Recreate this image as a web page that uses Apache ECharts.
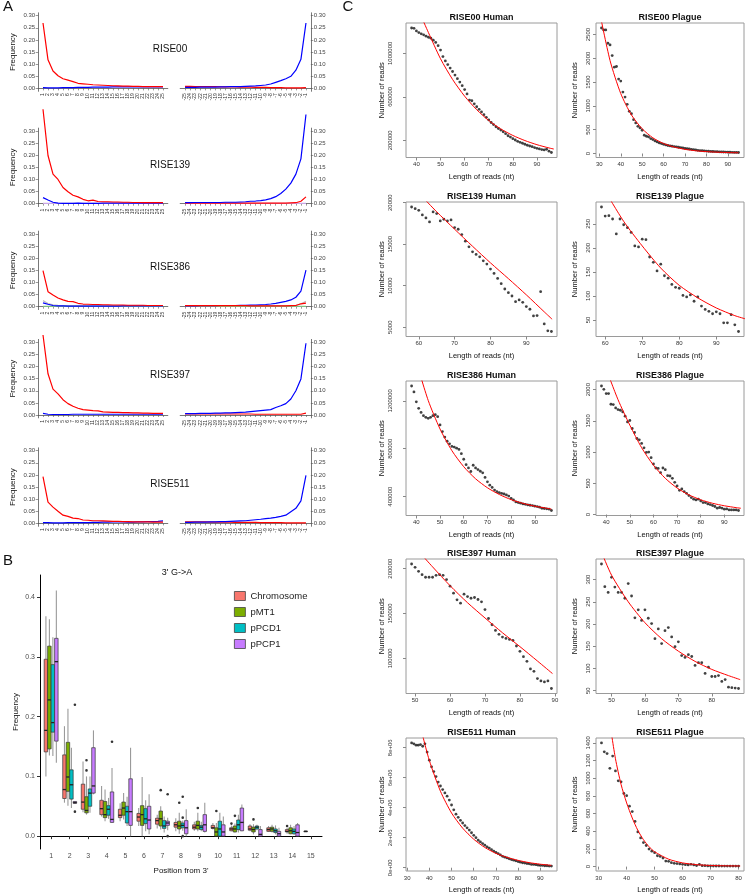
<!DOCTYPE html>
<html><head><meta charset="utf-8">
<script src="https://cdn.jsdelivr.net/npm/echarts@6/dist/echarts.min.js"></script>
<style>html,body{margin:0;padding:0;background:#fff}#c{width:748px;height:895px}</style>
</head><body><div id="c"></div>
<script>
// ---------------- Panel A data ----------------
const A_samples = ['RISE00','RISE139','RISE386','RISE397','RISE511'];
const A_pos5 = [1,2,3,4,5,6,7,8,9,10,11,12,13,14,15,16,17,18,19,20,21,22,23,24,25];
const A_pos3 = [-25,-24,-23,-22,-21,-20,-19,-18,-17,-16,-15,-14,-13,-12,-11,-10,-9,-8,-7,-6,-5,-4,-3,-2,-1];
const A_yTicks = [0,0.05,0.1,0.15,0.2,0.25,0.3];

const RISE00_red_5p  = [0.27,0.118,0.072,0.052,0.04,0.034,0.028,0.021,0.019,0.017,0.015,0.014,0.013,0.012,0.011,0.010,0.009,0.009,0.008,0.008,0.007,0.007,0.007,0.007,0.007];
const RISE00_blue_5p = [0.003,0.002,0.002,0.002,0.003,0.003,0.003,0.004,0.004,0.004,0.005,0.005,0.005,0.005,0.006,0.006,0.006,0.006,0.006,0.006,0.006,0.006,0.006,0.006,0.006];
const RISE00_red_3p  = [0.008,0.008,0.007,0.007,0.007,0.007,0.007,0.006,0.006,0.006,0.006,0.005,0.005,0.005,0.004,0.004,0.004,0.003,0.003,0.003,0.002,0.002,0.002,0.002,0.003];
const RISE00_blue_3p = [0.004,0.004,0.004,0.005,0.005,0.005,0.005,0.006,0.006,0.007,0.007,0.007,0.008,0.009,0.010,0.012,0.014,0.018,0.025,0.032,0.040,0.050,0.075,0.120,0.270];

const RISE139_red_5p  = [0.39,0.199,0.122,0.10,0.067,0.049,0.035,0.028,0.018,0.012,0.015,0.009,0.008,0.008,0.007,0.007,0.006,0.006,0.005,0.005,0.004,0.004,0.004,0.004,0.004];
const RISE139_blue_5p = [0.025,0.015,0.006,0.002,0.001,0.001,0.001,0.002,0.001,0.001,0.001,0.001,0.002,0.002,0.002,0.002,0.002,0.002,0.002,0.002,0.002,0.002,0.002,0.002,0.002];
const RISE139_red_3p  = [0.002,0.002,0.002,0.002,0.002,0.002,0.002,0.002,0.002,0.002,0.002,0.002,0.002,0.002,0.002,0.002,0.002,0.002,0.002,0.002,0.002,0.003,0.004,0.010,0.028];
const RISE139_blue_3p = [0.004,0.004,0.005,0.005,0.005,0.005,0.005,0.005,0.006,0.006,0.006,0.007,0.008,0.010,0.011,0.013,0.016,0.021,0.029,0.042,0.060,0.085,0.122,0.185,0.368];
const RISE139_purple  = [0.001,0.001,0.001,0.001,0.001,0.001,0.001,0.001,0.001,0.001,0.001,0.001,0.001,0.001,0.001,0.001,0.001,0.001,0.001,0.001,0.001,0.001,0.001,0.001,0.001];

const RISE386_red_5p  = [0.149,0.062,0.048,0.036,0.028,0.022,0.021,0.014,0.011,0.010,0.009,0.009,0.008,0.008,0.007,0.007,0.007,0.006,0.006,0.006,0.006,0.005,0.005,0.005,0.005];
const RISE386_blue_5p = [0.016,0.010,0.005,0.003,0.003,0.002,0.002,0.002,0.002,0.002,0.002,0.002,0.002,0.002,0.002,0.002,0.003,0.003,0.003,0.003,0.003,0.003,0.003,0.003,0.003];
const RISE386_grey_5p = [0.025,0.013,0.008,0.006,0.005,0.005,0.004,0.004,0.004,0.004,0.004,0.004,0.004,0.004,0.004,0.004,0.004,0.004,0.004,0.004,0.004,0.004,0.004,0.004,0.004];
const RISE386_red_3p  = [0.004,0.004,0.004,0.004,0.004,0.004,0.004,0.004,0.004,0.004,0.004,0.004,0.004,0.003,0.003,0.003,0.003,0.003,0.003,0.003,0.003,0.004,0.005,0.012,0.015];
const RISE386_blue_3p = [0.003,0.003,0.003,0.004,0.004,0.004,0.004,0.005,0.005,0.005,0.005,0.006,0.006,0.007,0.007,0.008,0.009,0.011,0.014,0.018,0.022,0.028,0.039,0.064,0.151];
const RISE386_grey_3p = [0.004,0.004,0.004,0.004,0.004,0.004,0.004,0.004,0.004,0.004,0.004,0.004,0.004,0.004,0.004,0.004,0.004,0.004,0.004,0.004,0.004,0.004,0.006,0.012,0.022];
const RISE386_green   = [0.001,0.001,0.001,0.001,0.001,0.001,0.001,0.001,0.001,0.001,0.001,0.001,0.001,0.001,0.001,0.001,0.001,0.001,0.001,0.001,0.001,0.001,0.001,0.001,0.001];

const RISE397_red_5p  = [0.33,0.17,0.107,0.087,0.063,0.047,0.036,0.028,0.022,0.020,0.018,0.017,0.013,0.012,0.011,0.011,0.010,0.010,0.009,0.009,0.008,0.008,0.007,0.007,0.007];
const RISE397_blue_5p = [0.007,0.003,0.002,0.002,0.002,0.002,0.003,0.003,0.003,0.003,0.003,0.003,0.003,0.003,0.003,0.003,0.003,0.003,0.003,0.003,0.003,0.003,0.003,0.003,0.003];
const RISE397_red_3p  = [0.004,0.004,0.004,0.004,0.004,0.004,0.004,0.004,0.004,0.004,0.004,0.004,0.004,0.004,0.003,0.003,0.003,0.003,0.003,0.003,0.003,0.003,0.003,0.003,0.008];
const RISE397_blue_3p = [0.006,0.006,0.006,0.007,0.007,0.007,0.008,0.008,0.009,0.009,0.010,0.011,0.012,0.014,0.016,0.018,0.020,0.022,0.031,0.038,0.047,0.066,0.100,0.149,0.296];

const RISE511_red_5p  = [0.193,0.088,0.067,0.050,0.034,0.029,0.022,0.020,0.014,0.013,0.011,0.011,0.010,0.009,0.008,0.008,0.007,0.007,0.006,0.006,0.006,0.006,0.005,0.005,0.005];
const RISE511_blue_5p = [0.003,0.003,0.002,0.002,0.002,0.003,0.003,0.003,0.003,0.003,0.004,0.004,0.005,0.005,0.006,0.006,0.006,0.005,0.005,0.006,0.006,0.007,0.007,0.008,0.010];
const RISE511_red_3p  = [0.006,0.006,0.006,0.006,0.006,0.005,0.005,0.005,0.005,0.005,0.004,0.004,0.004,0.004,0.004,0.003,0.003,0.003,0.003,0.003,0.002,0.002,0.002,0.002,0.002];
const RISE511_blue_3p = [0.004,0.004,0.005,0.005,0.005,0.006,0.006,0.007,0.007,0.008,0.009,0.010,0.011,0.013,0.015,0.017,0.020,0.022,0.025,0.029,0.034,0.048,0.062,0.093,0.198];

// ---------------- Panel B data ----------------
const B_groups = ['Chromosome','pMT1','pPCD1','pPCP1'];
const B_positions = [1,2,3,4,5,6,7,8,9,10,11,12,13,14,15];
// [min, q1, median, q3, max] per position
const B_chromosome = [[0.100,0.141,0.177,0.296,0.368],[0.056,0.063,0.078,0.136,0.184],[0.040,0.045,0.057,0.087,0.125],[0.033,0.036,0.046,0.060,0.084],[0.025,0.031,0.035,0.045,0.055],[0.017,0.025,0.032,0.038,0.047],[0.013,0.020,0.026,0.030,0.036],[0.008,0.015,0.019,0.023,0.030],[0.009,0.012,0.015,0.019,0.024],[0.011,0.013,0.014,0.018,0.022],[0.008,0.009,0.012,0.014,0.018],[0.008,0.010,0.012,0.017,0.020],[0.007,0.008,0.011,0.014,0.017],[0.004,0.007,0.008,0.011,0.014],[0.007,0.0075,0.008,0.0085,0.009]];
const B_pMT1 = [[0.135,0.146,0.228,0.318,0.363],[0.051,0.075,0.099,0.157,0.213],[0.036,0.039,0.043,0.066,0.100],[0.025,0.031,0.036,0.058,0.078],[0.028,0.035,0.047,0.057,0.072],[0.000,0.018,0.036,0.051,0.099],[0.011,0.017,0.029,0.042,0.050],[0.004,0.012,0.017,0.025,0.039],[0.008,0.012,0.018,0.025,0.039],[0.000,0.000,0.007,0.014,0.022],[0.006,0.007,0.012,0.017,0.021],[0.003,0.007,0.011,0.015,0.020],[0.006,0.008,0.012,0.015,0.019],[0.003,0.004,0.009,0.014,0.019]];
const B_pPCD1 = [[0.134,0.174,0.190,0.287,0.333],[0.047,0.062,0.086,0.111,0.148],[0.039,0.050,0.072,0.079,0.100],[0.029,0.035,0.045,0.051,0.064],[0.017,0.022,0.041,0.050,0.066],[0.008,0.021,0.029,0.046,0.060],[0.006,0.013,0.017,0.026,0.033],[0.009,0.014,0.018,0.022,0.026],[0.008,0.011,0.015,0.018,0.024],[0.000,0.000,0.012,0.025,0.039],[0.006,0.011,0.019,0.027,0.036],[0.010,0.012,0.015,0.017,0.019],[0.003,0.006,0.009,0.012,0.018],[0.002,0.004,0.008,0.012,0.017]];
const B_pPCP1 = [[0.123,0.159,0.292,0.331,0.411],[0.054,0.055,0.056,0.058,0.059],[0.070,0.072,0.084,0.148,0.177],[0.022,0.023,0.028,0.074,0.114],[0.000,0.018,0.041,0.096,0.148],[0.003,0.012,0.027,0.050,0.070],[0.010,0.018,0.022,0.025,0.031],[0.000,0.004,0.014,0.026,0.045],[0.006,0.008,0.019,0.036,0.056],[0.000,0.000,0.007,0.019,0.033],[0.008,0.009,0.023,0.047,0.053],[0.000,0.000,0.003,0.011,0.017],[0.000,0.000,0.004,0.008,0.014],[0.000,0.000,0.006,0.019,0.022]];
// outliers: [position, value]
const B_out_chromosome = [[11,0.021],[14,0.017]];
const B_out_pMT1 = [[3,0.127],[3,0.110],[7,0.077],[8,0.056],[9,0.047],[10,0.042],[11,0.034],[12,0.028]];
const B_out_pPCD1 = [[8,0.066],[8,0.031],[8,0.000]];
const B_out_pPCP1 = [[2,0.220],[2,0.041],[4,0.158],[7,0.070],[7,0.000]];
const B_yTicks = [0,0.1,0.2,0.3,0.4];

// ---------------- Panel C data ----------------
const C00H_start = 38;
const C00H_reads = [1233000,1230000,1206000,1191000,1179000,1170000,1158000,1148000,1139000,1121000,1100000,1070000,1030000,970000,930000,897000,864000,833000,800000,767000,736000,703000,667000,627000,570000,564000,536000,509000,485000,461000,436000,412000,388000,364000,345000,324000,309000,294000,279000,261000,242000,230000,215000,203000,191000,182000,173000,164000,155000,148000,142000,133000,127000,121000,115000,112000,118000,100000,88000];
const C00H_fitLen = [42,45,50,55,60,65,70,75,80,85,90,95,97];
const C00H_fit = [1340000,1190000,950000,760000,606000,482000,382000,305000,245000,198000,160000,130000,120000];

const C00P_start = 31;
const C00P_reads = [2638,2597,2597,2317,2282,2059,1815,1829,1564,1522,1291,1187,1033,886,838,712,642,572,537,489,384,363,349,314,293,265,244,223,209,195,181,168,160,153,146,140,132,125,118,108,100,95,88,80,75,68,62,60,55,52,48,45,42,40,38,35,33,32,30,28,27,25,24,22,21];
const C00P_fitLen = [30,35,40,45,50,55,60,65,70,75,80,85,90,95];
const C00P_fit = [3000,1954,1260,810,520,330,210,135,88,58,40,28,20,15];

const C139H_start = 58;
const C139H_reads = [19480,19280,19080,18520,18160,17680,18880,18680,17800,18000,17800,17920,17000,16800,16160,15360,14680,14080,13760,13480,13000,12600,12000,11480,10880,10240,9600,9160,8760,8080,8280,8000,7480,7160,6360,6400,9280,5400,4560,4480];
const C139H_fitLen = [61,65,70,75,80,85,90,95,97.2];
const C139H_fit = [20700,18900,16800,14750,12750,10850,8900,6850,5960];

const C139P_start = 59;
const C139P_reads = [285,266,267,260,229,260,248,242,232,204,202,218,217,181,170,152,166,142,137,124,118,116,101,98,102,89,98,79,72,68,63,67,63,44,44,61,40,26];
const C139P_fitLen = [60,65,70,75,80,85,90,95,98];
const C139P_fit = [318,255,204,158,122,96,75,59,52];

const C386H_start = 38;
const C386H_reads = [1324000,1274000,1192000,1137000,1103000,1076000,1062000,1054000,1062000,1076000,1084000,1068000,999000,943000,897000,863000,841000,819000,814000,805000,794000,759000,712000,667000,640000,610000,662000,640000,626000,612000,599000,560000,524000,496000,477000,455000,441000,433000,427000,422000,414000,405000,386000,372000,356000,350000,345000,339000,336000,331000,328000,325000,320000,317000,312000,303000,301000,298000,295000,284000];
const C386H_fitLen = [40,45,50,55,60,65,70,75,80,85,90,95,97];
const C386H_fit = [1525000,1204000,965000,784000,650000,549000,474000,418000,375000,344000,320000,303000,296000];

const C386P_start = 38;
const C386P_reads = [2059,2006,1937,1937,1766,1761,1708,1681,1670,1644,1575,1484,1506,1378,1314,1218,1197,1138,1069,995,1000,910,809,745,739,670,745,718,622,617,580,516,458,388,410,367,340,303,271,245,234,245,218,192,192,170,160,144,128,101,112,101,85,90,74,74,74,74,64];
const C386P_fitLen = [40,45,50,55,60,65,70,75,80,85,90,95,97];
const C386P_fit = [2330,1840,1431,1070,790,580,425,315,236,180,140,110,100];

const C397H_start = 49;
const C397H_reads = [205200,201500,197000,193300,190400,190400,190400,192600,193300,192600,187800,180400,172600,165200,161500,171500,168900,167000,167800,165600,163000,154400,144400,137400,131100,126700,123700,122200,121100,120000,113700,107800,101800,96600,88100,85500,77400,74800,73700,74800,66300];
const C397H_fitLen = [52,55,60,65,70,75,80,85,89.3];
const C397H_fit = [215000,202000,181000,162000,145000,128500,113000,97000,83000];

const C397P_start = 47;
const C397P_reads = [335,284,271,305,283,271,271,258,291,263,214,232,208,232,213,201,167,189,156,185,192,171,149,160,129,125,131,127,107,113,113,89,103,82,82,84,71,75,58,57,56,55];
const C397P_fitLen = [47,50,55,60,65,70,75,80,85,88.5];
const C397P_fit = [362,310,250,203,167,139,116,98,84,75];

const C511H_start = 32;
const C511H_reads = [8320000,8260000,8170000,8170000,8210000,8100000,8260000,7710000,7170000,6730000,6410000,6080000,5710000,5450000,5210000,4990000,4770000,4510000,4180000,3860000,3570000,3360000,3160000,2980000,2810000,2660000,2510000,2330000,2160000,2000000,1830000,1720000,1610000,1500000,1390000,1310000,1200000,1110000,1020000,940000,850000,760000,700000,650000,590000,540000,500000,460000,410000,370000,330000,310000,280000,260000,220000,220000,200000,170000,150000,150000,130000,130000,110000,110000];
const C511H_fitLen = [37,40,45,50,55,60,65,70,75,80,85,90,95];
const C511H_fit = [8800000,7150000,5100000,3650000,2640000,1900000,1350000,960000,690000,490000,340000,235000,160000];

const C511P_start = 31;
const C511P_reads = [1399,1298,1279,1112,1250,1082,970,959,828,802,683,623,511,392,324,272,239,198,175,157,123,115,97,63,60,45,37,34,30,26,22,19,26,19,12,25,10,10,8,8,7,7,7,6,6,6,6,6,6,6];
const C511P_fitLen = [34,36,38,40,42,44,46,48,50,55,60,65,70,75,80.6];
const C511P_fit = [1620,1220,930,720,550,410,305,225,168,84,42,22,13,9,7];

const C_xTicks = {
  C00H:[40,50,60,70,80,90], C00P:[30,40,50,60,70,80,90],
  C139H:[60,70,80,90], C139P:[60,70,80,90],
  C386H:[40,50,60,70,80,90], C386P:[40,50,60,70,80,90],
  C397H:[50,60,70,80,90], C397P:[50,60,70,80],
  C511H:[30,40,50,60,70,80,90], C511P:[30,40,50,60,70,80]
};
const C_yTicks = {
  C00H:[200000,600000,1000000], C00P:[0,500,1000,1500,2000,2500],
  C139H:[5000,10000,15000,20000], C139P:[50,100,150,200,250],
  C386H:[400000,800000,1200000], C386P:[0,500,1000,1500,2000],
  C397H:[100000,150000,200000], C397P:[50,100,150,200,250,300],
  C511H:[0,2000000,4000000,6000000,8000000], C511P:[0,200,400,600,800,1000,1200,1400]
};

// ---------------- build ----------------
const FONT = '"Liberation Sans", Arial, Helvetica, sans-serif';
const grids = [], xAxes = [], yAxes = [], series = [], graphics = [];

function txt(x, y, text, size, extra) {
  const el = {type:'text', x:x, y:y, silent:true, z:100,
    style:Object.assign({text:text, fontSize:size, fontFamily:FONT, fill:'#111',
      textAlign:'center', textVerticalAlign:'middle', align:'center', verticalAlign:'middle'}, extra && extra.style || {})};
  if (extra && extra.rotation) el.rotation = extra.rotation;
  graphics.push(el);
}
function pairs(xs, ys) { return ys.map((v, i) => [xs[i], v]); }

// ----- Panel A -----
const A_table = {
  RISE00: {l:[['#0000ff',RISE00_blue_5p],['#ff0000',RISE00_red_5p]], r:[['#ff0000',RISE00_red_3p],['#0000ff',RISE00_blue_3p]]},
  RISE139:{l:[['#c9a6e6',RISE139_purple],['#0000ff',RISE139_blue_5p],['#ff0000',RISE139_red_5p]], r:[['#c9a6e6',RISE139_purple],['#ff0000',RISE139_red_3p],['#0000ff',RISE139_blue_3p]]},
  RISE386:{l:[['#bdbdbd',RISE386_grey_5p],['#7fbf7f',RISE386_green],['#0000ff',RISE386_blue_5p],['#ff0000',RISE386_red_5p]], r:[['#bdbdbd',RISE386_grey_3p],['#7fbf7f',RISE386_green],['#0000ff',RISE386_blue_3p],['#ff0000',RISE386_red_3p]]},
  RISE397:{l:[['#0000ff',RISE397_blue_5p],['#ff0000',RISE397_red_5p]], r:[['#ff0000',RISE397_red_3p],['#0000ff',RISE397_blue_3p]]},
  RISE511:{l:[['#0000ff',RISE511_blue_5p],['#ff0000',RISE511_red_5p]], r:[['#ff0000',RISE511_red_3p],['#0000ff',RISE511_blue_3p]]}
};
const A_rowTop = [12.8, 128.1, 231.1, 339.4, 447.8];
const A_rowH = 78.5;
const A_titleY = [49, 165, 267, 375, 484];
const axGrey = '#555';

A_samples.forEach((s, r) => {
  const top = A_rowTop[r];
  [['l', 38.2, 129.6, 0.04, 25.96, A_pos5, 'left'], ['r', 180.2, 130.6, -25.96, -0.04, A_pos3, 'right']].forEach(side => {
    const gi = grids.length;
    grids.push({left:side[1], top:top, width:side[2], height:A_rowH});
    xAxes.push({gridIndex:gi, type:'value', min:side[3], max:side[4], splitLine:{show:false},
      axisLine:{show:true, lineStyle:{color:axGrey, width:0.8}},
      axisTick:{show:true, length:2, customValues:side[5], lineStyle:{color:axGrey, width:0.6}},
      axisLabel:{customValues:side[5], rotate:90, fontSize:5, color:'#333', margin:2, fontFamily:FONT, formatter:v=>String(v)}});
    yAxes.push({gridIndex:gi, type:'value', position:side[6], min:-0.012, max:0.312, splitLine:{show:false},
      axisLine:{show:true, lineStyle:{color:axGrey, width:0.8}},
      axisTick:{show:true, length:2.5, customValues:A_yTicks, lineStyle:{color:axGrey, width:0.6}},
      axisLabel:{customValues:A_yTicks, fontSize:6, color:'#444', margin:3, fontFamily:FONT, formatter:v=>v.toFixed(2)},
      name: side[0]==='l' ? 'Frequency' : '', nameLocation:'middle', nameGap:21,
      nameTextStyle:{fontSize:8, color:'#111', fontFamily:FONT}});
    const xs = side[5];
    A_table[s][side[0]].forEach((ln, k) => {
      series.push({type:'line', xAxisIndex:gi, yAxisIndex:gi, data:pairs(xs, ln[1]), symbol:'none', clip:false,
        silent:true, z:2+k, lineStyle:{color:ln[0], width:1.2}});
    });
  });
  txt(170, A_titleY[r], s, 10);
});
txt(8, 7, 'A', 15);

// ----- Panel B -----
const B_colors = ['#F8766D','#7CAE00','#00BFC4','#C77CFF'];
const bIdx = grids.length;
grids.push({left:40, top:575, width:282, height:274});
xAxes.push({gridIndex:bIdx, type:'value', min:0.4, max:15.6, splitLine:{show:false},
  axisLine:{show:true, lineStyle:{color:'#000', width:1}},
  axisTick:{show:true, length:3, customValues:B_positions, lineStyle:{color:'#333'}},
  axisLabel:{customValues:B_positions, fontSize:7, color:'#4d4d4d', margin:4, fontFamily:FONT, formatter:v=>String(v)},
  name:"Position from 3'", nameLocation:'middle', nameGap:18, nameTextStyle:{fontSize:8, color:'#111', fontFamily:FONT}});
yAxes.push({gridIndex:bIdx, type:'value', min:-0.0215, max:0.437, splitLine:{show:false},
  axisLine:{show:true, lineStyle:{color:'#000', width:1}},
  axisTick:{show:true, length:3, customValues:B_yTicks, lineStyle:{color:'#333'}},
  axisLabel:{customValues:B_yTicks, fontSize:7, color:'#4d4d4d', margin:5, fontFamily:FONT, formatter:v=>v.toFixed(1)},
  name:'Frequency', nameLocation:'middle', nameGap:20, nameTextStyle:{fontSize:8, color:'#111', fontFamily:FONT}});

const B_boxes = [B_chromosome, B_pMT1, B_pPCD1, B_pPCP1];
const B_outs = [B_out_chromosome, B_out_pMT1, B_out_pPCD1, B_out_pPCP1];
B_groups.forEach((name, g) => {
  const color = B_colors[g];
  const data = B_boxes[g].map((b, i) => [B_positions[i]].concat(b));
  series.push({type:'custom', name:name, xAxisIndex:bIdx, yAxisIndex:bIdx, data:data, silent:true, z:5,
    itemStyle:{color:color, borderColor:'#333', borderWidth:0.8},
    renderItem:function(params, api){
      const pos = api.value(0);
      const unit = api.size([1, 0])[0];
      const bw = unit * 0.75 / 4;
      const cx = api.coord([pos, 0])[0] + (g - 1.5) * bw;
      const y = [1,2,3,4,5].map(k => api.coord([pos, api.value(k)])[1]);
      return {type:'group', children:[
        {type:'line', shape:{x1:cx, y1:y[3], x2:cx, y2:y[4]}, style:{stroke:'#9a9a9a', lineWidth:1.1}},
        {type:'line', shape:{x1:cx, y1:y[0], x2:cx, y2:y[1]}, style:{stroke:'#9a9a9a', lineWidth:1.1}},
        {type:'rect', shape:{x:cx - bw/2, y:y[3], width:bw, height:Math.max(y[1] - y[3], 0.8)}, style:{fill:color, stroke:'#333', lineWidth:0.7}},
        {type:'line', shape:{x1:cx - bw/2, y1:y[2], x2:cx + bw/2, y2:y[2]}, style:{stroke:'#222', lineWidth:1.3}}
      ]};
    }});
  series.push({type:'custom', name:name + ' outliers', xAxisIndex:bIdx, yAxisIndex:bIdx, data:B_outs[g], silent:true, z:6,
    renderItem:function(params, api){
      const pos = api.value(0);
      const unit = api.size([1, 0])[0];
      const bw = unit * 0.75 / 4;
      const p = api.coord([pos, api.value(1)]);
      return {type:'circle', shape:{cx:p[0] + (g - 1.5) * bw, cy:p[1], r:1.3}, style:{fill:'#333'}};
    }});
});
txt(177, 573, "3' G->A", 9);
txt(8, 561, 'B', 15);

// ----- Panel C -----
const C_list = [
  ['RISE00 Human', 'C00H', C00H_start, C00H_reads, C00H_fitLen, C00H_fit, 0, 0],
  ['RISE00 Plague', 'C00P', C00P_start, C00P_reads, C00P_fitLen, C00P_fit, 1, 0],
  ['RISE139 Human', 'C139H', C139H_start, C139H_reads, C139H_fitLen, C139H_fit, 0, 1],
  ['RISE139 Plague', 'C139P', C139P_start, C139P_reads, C139P_fitLen, C139P_fit, 1, 1],
  ['RISE386 Human', 'C386H', C386H_start, C386H_reads, C386H_fitLen, C386H_fit, 0, 2],
  ['RISE386 Plague', 'C386P', C386P_start, C386P_reads, C386P_fitLen, C386P_fit, 1, 2],
  ['RISE397 Human', 'C397H', C397H_start, C397H_reads, C397H_fitLen, C397H_fit, 0, 3],
  ['RISE397 Plague', 'C397P', C397P_start, C397P_reads, C397P_fitLen, C397P_fit, 1, 3],
  ['RISE511 Human', 'C511H', C511H_start, C511H_reads, C511H_fitLen, C511H_fit, 0, 4],
  ['RISE511 Plague', 'C511P', C511P_start, C511P_reads, C511P_fitLen, C511P_fit, 1, 4]
];
const C_colLeft = [406, 596], C_colW = [151, 148];
const C_labMargin = [13, 5], C_nameGap = [20, 17];
const C_rowTop = [23, 202, 381, 559, 738], C_h = 134.5;

C_list.forEach(p => {
  const [title, key, start, reads, fitLen, fit, col, row] = p;
  const lens = reads.map((v, i) => start + i);
  const xmin = lens[0], xmax = lens[lens.length - 1];
  const ymin = Math.min(...reads), ymax = Math.max(...reads);
  const dx = (xmax - xmin) * 0.04, dy = (ymax - ymin) * 0.04;
  const gi = grids.length;
  grids.push({left:C_colLeft[col], top:C_rowTop[row], width:C_colW[col], height:C_h, show:true, borderColor:'#9a9a9a', borderWidth:1});
  xAxes.push({gridIndex:gi, type:'value', min:xmin - dx, max:xmax + dx, splitLine:{show:false}, axisLine:{show:false},
    axisTick:{show:true, length:3, customValues:C_xTicks[key], lineStyle:{color:'#888'}},
    axisLabel:{customValues:C_xTicks[key], fontSize:6, color:'#333', margin:4, fontFamily:FONT, formatter:v=>String(v)},
    name:'Length of reads (nt)', nameLocation:'middle', nameGap:15, nameTextStyle:{fontSize:7.5, color:'#111', fontFamily:FONT}});
  const fmt = key === 'C511H' ? (v => v === 0 ? '0e+00' : (v / 1e6) + 'e+06') : (v => String(v));
  yAxes.push({gridIndex:gi, type:'value', min:ymin - dy, max:ymax + dy, splitLine:{show:false}, axisLine:{show:false},
    axisTick:{show:true, length:3, customValues:C_yTicks[key], lineStyle:{color:'#888'}},
    axisLabel:{customValues:C_yTicks[key], rotate:90, fontSize:6, color:'#333', margin:C_labMargin[col], fontFamily:FONT, formatter:fmt},
    name:'Number of reads', nameLocation:'middle', nameGap:C_nameGap[col], nameTextStyle:{fontSize:7.5, color:'#111', fontFamily:FONT}});
  series.push({type:'scatter', xAxisIndex:gi, yAxisIndex:gi, data:pairs(lens, reads), symbol:'circle', symbolSize:2.8,
    silent:true, itemStyle:{color:'#111'}, z:3});
  series.push({type:'line', xAxisIndex:gi, yAxisIndex:gi, data:pairs(fitLen, fit), symbol:'none', smooth:0.25,
    clip:true, silent:true, lineStyle:{color:'#ff0000', width:1}, z:4});
  txt(C_colLeft[col] + C_colW[col] / 2, C_rowTop[row] - 5, title, 9, {style:{fontWeight:'bold'}});
});
txt(348, 7, 'C', 15);

const chart = echarts.init(document.getElementById('c'), null, {renderer:'canvas'});
chart.setOption({
  animation:false,
  backgroundColor:'#fff',
  textStyle:{fontFamily:FONT},
  grid:grids, xAxis:xAxes, yAxis:yAxes, series:series,
  legend:{data:B_groups, orient:'vertical', left:234, top:591, padding:0, itemWidth:11, itemHeight:9, itemGap:6, icon:'rect',
    textStyle:{fontSize:9.5, color:'#222', fontFamily:FONT}, itemStyle:{borderColor:'#444', borderWidth:0.8}},
  graphic:graphics
});
</script></body></html>
